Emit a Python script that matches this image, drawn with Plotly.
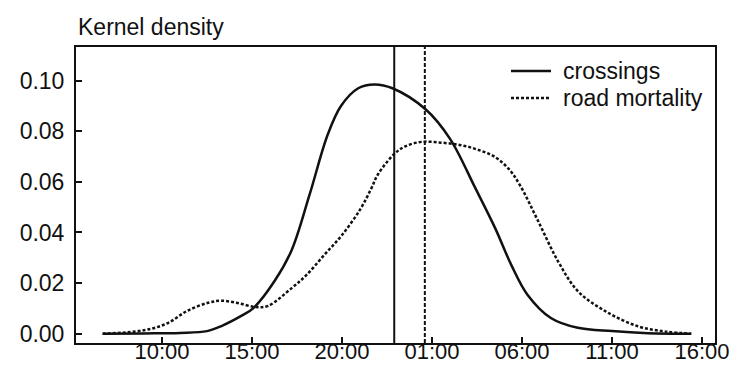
import plotly.graph_objects as go

# hours on a continuous clock (25 = 01:00 next day)
cross_hours = [6.7, 9.0, 11.0, 12.5, 13.3, 14.4, 15.06, 16.27, 17.2, 18.2, 19.2, 19.94, 20.9, 21.8,
               22.8, 24.67, 26.0, 27.4, 28.5, 29.4, 30.3, 31.6, 33.1, 35.0, 37.0, 39.4]
cross_dens = [0.0, 0.0001, 0.0003, 0.001, 0.003, 0.007, 0.010, 0.021, 0.033, 0.055, 0.0786, 0.090, 0.097, 0.0985,
              0.097, 0.0885, 0.077, 0.0576, 0.0418, 0.0272, 0.0154, 0.0062, 0.0023, 0.001, 0.0002, 0.0]

mort_hours = [6.7, 8.0, 9.2, 10.33, 11.4, 12.56, 13.3, 14.2, 15.2, 15.9, 17.2, 18.0, 19.0, 20.0, 21.0, 21.6,
              22.0, 22.9, 23.5, 24.4, 25.5, 26.6, 27.5, 28.5, 29.3, 29.9, 30.9, 32.0, 33.1, 34.6, 36.4, 38.0, 39.4]
mort_dens = [0.0, 0.0005, 0.0016, 0.0042, 0.009, 0.0122, 0.013, 0.0121, 0.0105, 0.011, 0.018, 0.023, 0.031, 0.039,
             0.049, 0.057, 0.063, 0.071, 0.074, 0.0758, 0.0755, 0.0745, 0.0728, 0.0698, 0.0648, 0.0585, 0.0444, 0.0286,
             0.0168, 0.009, 0.003, 0.0008, 0.0]

cross_mean = 22.9
mort_mean = 24.6

tick_vals = [10, 15, 20, 25, 30, 35, 40]
tick_text = ["10:00", "15:00", "20:00", "01:00", "06:00", "11:00", "16:00"]
y_ticks = [0.00, 0.02, 0.04, 0.06, 0.08, 0.10]
y_text = ["0.00", "0.02", "0.04", "0.06", "0.08", "0.10"]
series_names = ["crossings", "road mortality"]

FONT = "Liberation Sans, Arial, sans-serif"
INK = "#111111"
FS = 23

L, R, T, B = 68, 33, 39, 30
PW, PH = 740 - L - R, 365 - T - B


def px_x(p):
    return (p - L) / PW


def px_y(p):
    return (365 - B - p) / PH


fig = go.Figure()
fig.add_trace(go.Scatter(x=cross_hours, y=cross_dens, mode="lines", name=series_names[0],
                         line=dict(color=INK, width=2.5, shape="spline", smoothing=1.0)))
fig.add_trace(go.Scatter(x=mort_hours, y=mort_dens, mode="lines", name=series_names[1],
                         line=dict(color=INK, width=2.5, dash="3px,2px", shape="spline", smoothing=1.0)))

fig.add_shape(type="line", xref="x", yref="paper", x0=cross_mean, x1=cross_mean, y0=0, y1=1,
              line=dict(color=INK, width=2))
fig.add_shape(type="line", xref="x", yref="paper", x0=mort_mean, x1=mort_mean, y0=0, y1=1,
              line=dict(color=INK, width=2, dash="4px,2px"))

# manual legend
for i, (name, dash) in enumerate(zip(series_names, ["solid", "3px,2px"])):
    yc = px_y(63 + 27 * i)
    fig.add_shape(type="line", xref="paper", yref="paper", x0=px_x(503), x1=px_x(543), y0=yc, y1=yc,
                  line=dict(color=INK, width=2.5, dash=dash))
    fig.add_annotation(text=name, xref="paper", yref="paper", x=px_x(553), y=yc,
                       xanchor="left", yanchor="middle", showarrow=False,
                       font=dict(family=FONT, size=FS, color=INK))

fig.add_annotation(text="Kernel density", xref="paper", yref="paper", x=0, y=1,
                   xanchor="left", yanchor="bottom", showarrow=False, xshift=0, yshift=5,
                   font=dict(family=FONT, size=FS, color=INK))

axis_common = dict(showline=True, linecolor=INK, linewidth=2, mirror=True, ticks="inside",
                   ticklen=6, tickwidth=1.5, tickcolor=INK, showgrid=False, zeroline=False,
                   automargin=False)

fig.update_layout(
    width=740, height=365,
    margin=dict(l=L, r=R, t=T, b=B),
    paper_bgcolor="white", plot_bgcolor="white",
    showlegend=False,
    xaxis=dict(range=[5.22, 40.72], tickvals=tick_vals, ticktext=tick_text, ticklabelstandoff=-12,
               tickfont=dict(family=FONT, size=22, color=INK), **axis_common),
    yaxis=dict(range=[-0.0037, 0.1133], tickvals=y_ticks, ticktext=y_text, ticklabelstandoff=5,
               tickfont=dict(family=FONT, size=FS, color=INK), **axis_common),
)

fig.write_html("out.html")
